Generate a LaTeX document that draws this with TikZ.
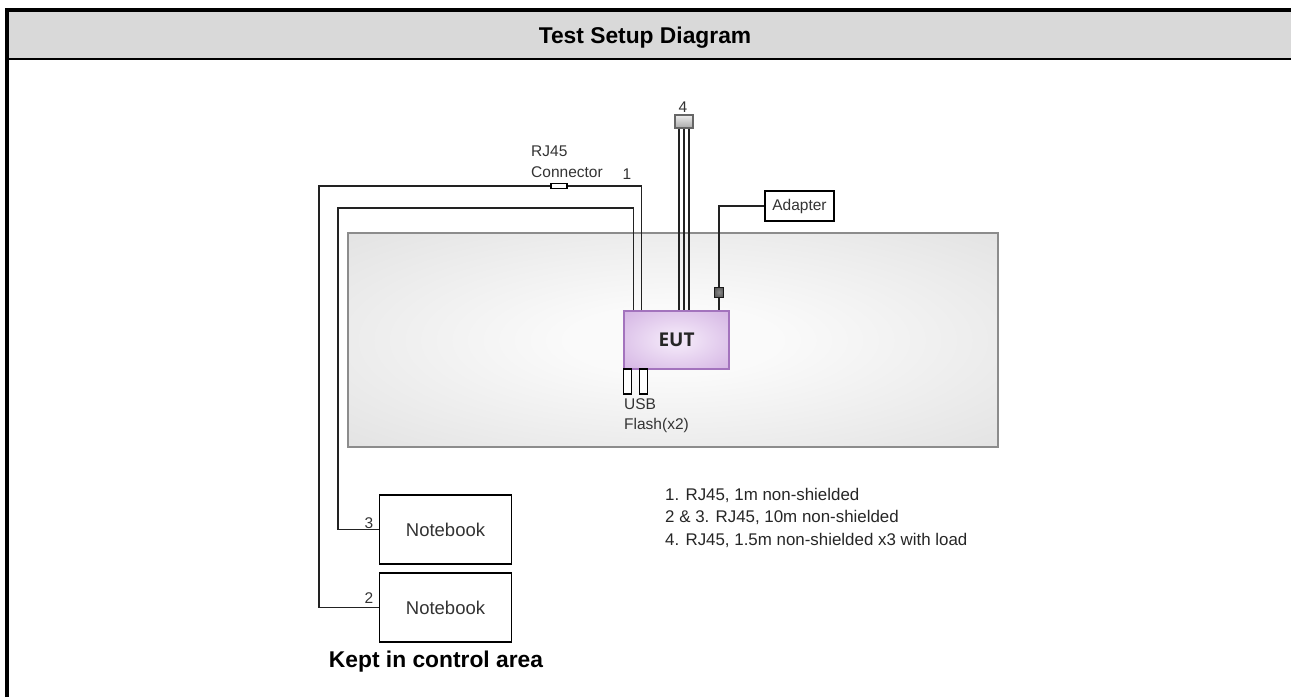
\documentclass[tikz,border=0pt]{standalone}
\usepackage{fontspec}
\setmainfont{Liberation Sans}
\newfontfamily\eutfont{Open Sans}
\usetikzlibrary{calc}
\definecolor{hdr}{HTML}{D9D9D9}
\definecolor{tblin}{HTML}{FAFAFA}
\definecolor{tblout}{HTML}{CDCDCD}
\definecolor{tblborder}{HTML}{8C8C8C}
\definecolor{eutin}{HTML}{F1E4F7}
\definecolor{eutout}{HTML}{BF91D5}
\definecolor{eutborder}{HTML}{A373BD}
\definecolor{cablecol}{HTML}{222222}
\definecolor{conntop}{HTML}{EDEDED}
\definecolor{connbot}{HTML}{A9A9A9}
\definecolor{ferrin}{HTML}{8A8A8A}
\definecolor{ferrout}{HTML}{333333}
\pgfdeclareradialshading{tableshade}{\pgfpoint{0bp}{0bp}}{color(0bp)=(tblin);color(8bp)=(tblin);color(62bp)=(tblout);color(72bp)=(tblout)}
\pgfdeclareradialshading{eutshade}{\pgfpoint{0bp}{0bp}}{color(0bp)=(eutin);color(6bp)=(eutin);color(58bp)=(eutout);color(72bp)=(eutout)}
\pgfdeclareradialshading{ferrshade}{\pgfpoint{0bp}{0bp}}{color(0bp)=(ferrin);color(50bp)=(ferrout);color(72bp)=(ferrout)}
\tikzset{
  cable/.style={draw=cablecol, line width=1.5pt},
  tablebox/.style={draw=tblborder, line width=1.8pt, shade, shading=tableshade, inner sep=0pt},
  eutbox/.style={draw=eutborder, line width=1.5pt, shade, shading=eutshade, inner sep=0pt,
    font=\eutfont\bfseries\fontsize{19}{22}\selectfont, text=black!85},
  plainbox/.style={draw=black, line width=1.5pt, fill=white, inner sep=0pt},
  nbbox/.style={plainbox, minimum width=132pt, minimum height=69pt,
    font=\fontsize{18.5}{22}\selectfont, text=black!80},
  usbbox/.style={plainbox, minimum width=8pt, minimum height=25pt},
  conn4box/.style={draw=black!60, line width=1.2pt, top color=conntop, bottom color=connbot,
    minimum width=18pt, minimum height=13pt, inner sep=0pt},
  rjbox/.style={draw=black, line width=1.2pt, fill=white, minimum width=16pt, minimum height=5pt, inner sep=0pt},
  ferrbox/.style={draw=black!90, line width=1pt, shade, shading=ferrshade, minimum width=9pt, minimum height=10pt, inner sep=0pt},
  small/.style={font=\fontsize{15.5}{18}\selectfont, text=black!80, inner sep=0pt},
  legend/.style={font=\fontsize{16.9}{20}\selectfont, text=black!85, inner sep=0pt, anchor=base west},
  heading/.style={font=\bfseries\fontsize{22.8}{26}\selectfont, inner sep=0pt, anchor=base},
}
\begin{document}
\begin{tikzpicture}[x=1pt,y=-1pt]
\useasboundingbox (0,0) rectangle (1291,697);
% frame and header
\fill[hdr] (9,12) rectangle (1291,58);
\draw[line width=4pt] (7,697) -- (7,10) -- (1291,10);
\draw[line width=2.5pt] (9,59) -- (1291,59);
\node[heading] (title) at (645,43) {Test Setup Diagram};
% table
\node[tablebox, minimum width=650pt, minimum height=214pt] (table) at (673,340) {};
% EUT
\node[eutbox, minimum width=105pt, minimum height=58pt] (eut) at (676.5,340) {EUT};
% USB flash drives
\node[usbbox] (usb1) at (627.5,381.5) {};
\node[usbbox] (usb2) at (643.5,381.5) {};
\node[small, anchor=west] (lblusb) at (624,404.5) {USB};
\node[small, anchor=west] (lblflash) at (624,425) {Flash(x2)};
% notebooks
\node[nbbox] (nb3) at (445.5,529.5) {Notebook};
\node[nbbox] (nb2) at (445.5,607.5) {Notebook};
\node[heading] (kept) at (436,667) {Kept in control area};
% cable 2/3 (inner)
\draw[cable] ([xshift=10pt]eut.north west) |- (338,208) |- (nb3.west);
% cable 1/2 (outer) with RJ45 connector
\draw[cable] ([xshift=18pt]eut.north west) |- (319,186) |- (nb2.west);
\node[rjbox] (rj) at (559,186) {};
\node[small, anchor=west] (lblrj) at (531,151) {RJ45};
\node[small, anchor=west] (lblconn) at (531,172.5) {Connector};
\node[small] (lbl1) at (627,174.5) {1};
\node[small] (lbl3) at (369,523) {3};
\node[small] (lbl2) at (369,598) {2};
% cable 4
\node[conn4box] (c4) at (684,121.5) {};
\node[small] (lbl4) at (683,107.5) {4};
\draw[cable] ([xshift=-5pt]c4.south) -- ([xshift=-5pt]c4.south |- eut.north);
\draw[cable] (c4.south) -- (c4.south |- eut.north);
\draw[cable] ([xshift=5pt]c4.south) -- ([xshift=5pt]c4.south |- eut.north);
% adapter
\node[plainbox, minimum width=69pt, minimum height=30pt, font=\fontsize{15.5}{18}\selectfont, text=black!80] (adapter) at (799.5,206) {Adapter};
\node[ferrbox] (ferr) at (719,292) {};
\draw[cable] (adapter.west) -| (ferr.north);
\draw[cable] (ferr.south) -- (ferr.south |- eut.north);
% legend
\node[legend] (leg1) at (665,500) {1. RJ45, 1m non-shielded};
\node[legend] (leg2) at (665,522.5) {2 \& 3. RJ45, 10m non-shielded};
\node[legend] (leg3) at (665,545) {4. RJ45, 1.5m non-shielded x3 with load};
\end{tikzpicture}
\end{document}
